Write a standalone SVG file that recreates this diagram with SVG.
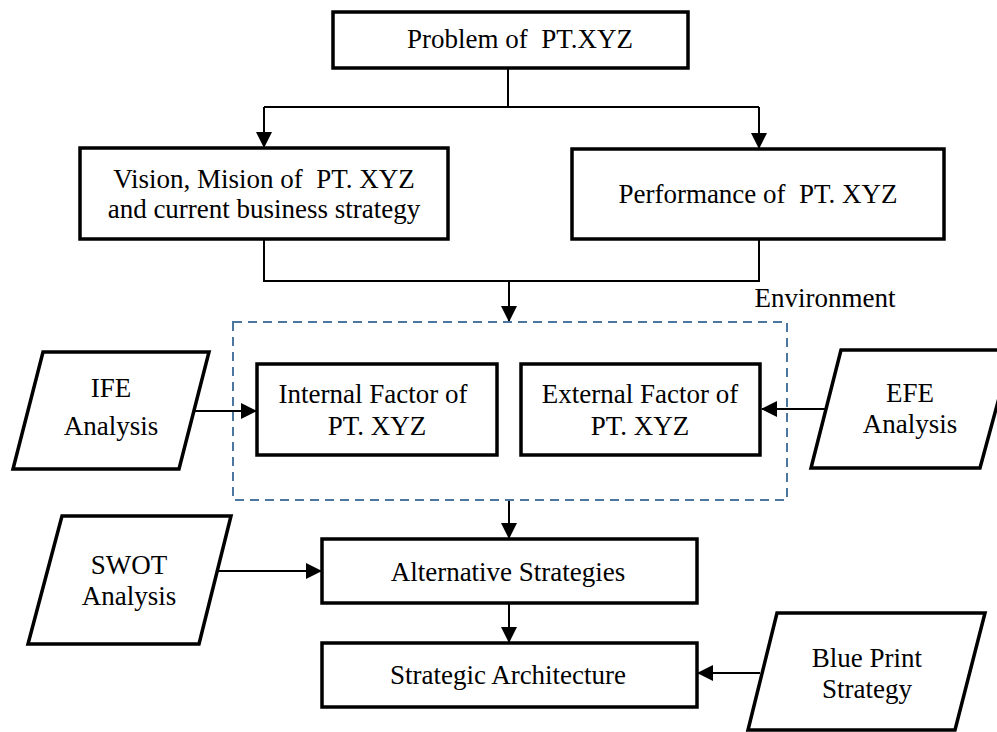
<svg xmlns="http://www.w3.org/2000/svg" width="997" height="732" viewBox="0 0 997 732">
<defs>
<marker id="arr" markerWidth="16" markerHeight="16" refX="15" refY="8" orient="auto" markerUnits="userSpaceOnUse">
<path d="M0,0 L16,8 L0,16 Z" fill="#000"/>
</marker>
<style>
.box{fill:#fff;stroke:#000;stroke-width:3.5}
.t{font-family:"Liberation Serif","Times New Roman",serif;font-size:27px;fill:#000;text-anchor:middle}
.c{fill:none;stroke:#000;stroke-width:2}
.env{fill:none;stroke:#4a76a0;stroke-width:2;stroke-dasharray:9 6}
</style>
</defs>
<rect width="997" height="732" fill="#fff"/>
<g id="connectors">
<path class="c" d="M508,68 V107 M264,107 H759"/>
<path class="c" d="M264,107 V147" marker-end="url(#arr)"/>
<path class="c" d="M759,107 V148" marker-end="url(#arr)"/>
<path class="c" d="M264,239 V281 H759 V239"/>
<path class="c" d="M509,281 V321" marker-end="url(#arr)"/>
<path class="c" d="M195,411 H256" marker-end="url(#arr)"/>
<path class="c" d="M825,409 H762" marker-end="url(#arr)"/>
<path class="c" d="M509,500 V538" marker-end="url(#arr)"/>
<path class="c" d="M218,571 H321" marker-end="url(#arr)"/>
<path class="c" d="M509,603 V642" marker-end="url(#arr)"/>
<path class="c" d="M760,673 H698" marker-end="url(#arr)"/>
</g>
<g id="environment">
<rect class="env" x="233" y="322" width="554" height="178"/>
<text class="t" x="825" y="307">Environment</text>
</g>
<g id="problem">
<rect class="box" x="333" y="12" width="355" height="56"/>
<text class="t" x="520" y="48" xml:space="preserve">Problem of  PT.XYZ</text>
</g>
<g id="vision">
<rect class="box" x="80" y="148" width="368" height="91"/>
<text class="t" x="264" y="188" xml:space="preserve">Vision, Mision of  PT. XYZ</text>
<text class="t" x="264" y="218">and current business strategy</text>
</g>
<g id="performance">
<rect class="box" x="572" y="149" width="372" height="90"/>
<text class="t" x="758" y="203" xml:space="preserve">Performance of  PT. XYZ</text>
</g>
<g id="ife">
<polygon class="box" points="43,352 209,352 179,469 13,469"/>
<text class="t" x="111" y="397">IFE</text>
<text class="t" x="111" y="435">Analysis</text>
</g>
<g id="internal">
<rect class="box" x="257" y="364" width="240" height="91"/>
<text class="t" x="373" y="403">Internal Factor of</text>
<text class="t" x="377" y="435">PT. XYZ</text>
</g>
<g id="external">
<rect class="box" x="521" y="364" width="239" height="91"/>
<text class="t" x="640" y="403">External Factor of</text>
<text class="t" x="640" y="435">PT. XYZ</text>
</g>
<g id="efe">
<polygon class="box" points="841,350 1012,350 980,468 811,468"/>
<text class="t" x="910" y="402">EFE</text>
<text class="t" x="910" y="433">Analysis</text>
</g>
<g id="swot">
<polygon class="box" points="62,516 231,516 199,644 28,644"/>
<text class="t" x="129" y="574">SWOT</text>
<text class="t" x="129" y="605">Analysis</text>
</g>
<g id="alternative">
<rect class="box" x="322" y="539" width="375" height="64"/>
<text class="t" x="508" y="581">Alternative Strategies</text>
</g>
<g id="strategic">
<rect class="box" x="322" y="643" width="375" height="64"/>
<text class="t" x="508" y="684">Strategic Architecture</text>
</g>
<g id="blueprint">
<polygon class="box" points="777,613 985,613 955,730 748,730"/>
<text class="t" x="867" y="667">Blue Print</text>
<text class="t" x="867" y="698">Strategy</text>
</g>
</svg>
